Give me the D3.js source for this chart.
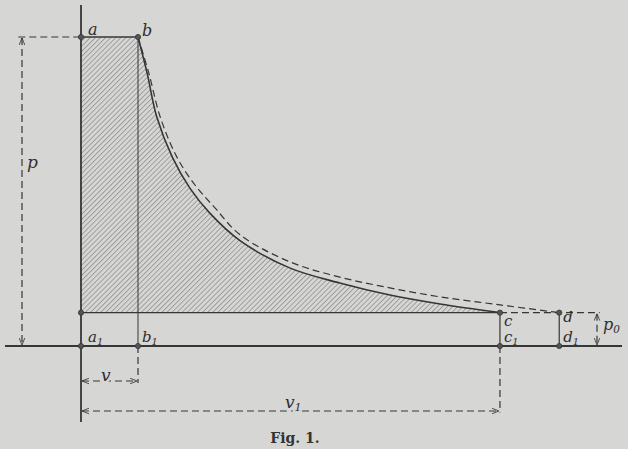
<!DOCTYPE html>
<html>
<head>
<meta charset="utf-8">
<script src="https://cdn.jsdelivr.net/npm/d3@7"></script>
<style>
  body { margin: 0; background: #d6d6d4; }
  svg { display: block; }
  .lbl { font-family: "DejaVu Serif", "Liberation Serif", serif; font-style: italic; fill: #2e2e2e; }
</style>
</head>
<body>
<svg id="chart" width="628" height="449"></svg>
<script>
// adiabatic expansion b -> c (solid)
var solidV = [1, 1.16, 1.33, 1.6, 1.91, 2.26, 2.79, 3.67, 4.54, 5.42, 6.3, 7.35];
var solidP = [10, 8.83, 7.41, 6.12, 5.11, 4.3, 3.41, 2.52, 2.04, 1.65, 1.36, 1.08];

// isothermal curve b -> d (dashed)
var dashV = [1, 1.19, 1.39, 1.68, 2.0, 2.35, 2.79, 3.67, 4.54, 5.42, 6.3, 7.35, 8.39];
var dashP = [10, 8.83, 7.41, 6.12, 5.21, 4.47, 3.6, 2.72, 2.23, 1.88, 1.59, 1.33, 1.08];

// labelled points
var ptNames = ["a", "b", "a1", "b1", "c", "c1", "d", "d1", ""];
var ptV = [0, 1, 0, 1, 7.35, 7.35, 8.39, 8.39, 0];
var ptP = [10, 10, 0, 0, 1.08, 0, 1.08, 0, 1.08];

var vB = 1, vC = 7.35, vD = 8.39, pA = 10, p0 = 1.08;

var svg = d3.select("#chart");
var ink = "#363636";

var x = d3.scaleLinear().domain([0, 1]).range([81, 138]);
var y = d3.scaleLinear().domain([0, 10]).range([346, 37]);

// hatch pattern
var defs = svg.append("defs");
var pat = defs.append("pattern")
    .attr("id", "hatch")
    .attr("patternUnits", "userSpaceOnUse")
    .attr("width", 3.6).attr("height", 3.6)
    .attr("patternTransform", "rotate(45)");
pat.append("line")
    .attr("x1", 0).attr("y1", 0).attr("x2", 0).attr("y2", 3.6)
    .attr("stroke", "#5e5e5e").attr("stroke-width", 0.9);

// arrow markers
function marker(id, dir) {
  var m = defs.append("marker")
      .attr("id", id)
      .attr("viewBox", "0 -5 10 10")
      .attr("refX", 10).attr("refY", 0)
      .attr("markerWidth", 7).attr("markerHeight", 7)
      .attr("markerUnits", "userSpaceOnUse")
      .attr("orient", dir);
  m.append("path").attr("d", "M0,-4L10,0L0,4")
      .attr("fill", "none").attr("stroke", ink).attr("stroke-width", 1.2);
}
marker("arrEnd", "auto");
marker("arrStart", "auto-start-reverse");

var curveLine = d3.line().x(function (d) { return x(d[0]); }).y(function (d) { return y(d[1]); })
    .curve(d3.curveCatmullRom);

// hatched area a - b - curve - c - back to axis at p0
var solidPts = solidV.map(function (v, i) { return [v, solidP[i]]; });
svg.append("path")
    .attr("d", "M" + x(0) + "," + y(pA) + "L" + curveLine(solidPts).slice(1) +
      "L" + x(0) + "," + y(p0) + "Z")
    .attr("fill", "url(#hatch)");

// axes
svg.append("line").attr("x1", 5).attr("x2", 622).attr("y1", y(0)).attr("y2", y(0))
    .attr("stroke", ink).attr("stroke-width", 1.8);
svg.append("line").attr("x1", x(0)).attr("x2", x(0)).attr("y1", 5).attr("y2", 422)
    .attr("stroke", ink).attr("stroke-width", 1.8);

function seg(v1, p1, v2, p2, w, dash) {
  var l = svg.append("line")
      .attr("x1", x(v1)).attr("y1", y(p1)).attr("x2", x(v2)).attr("y2", y(p2))
      .attr("stroke", ink).attr("stroke-width", w || 1);
  if (dash) l.attr("stroke-dasharray", dash);
  return l;
}

// solid construction lines
seg(0, pA, vB, pA, 1.3);
seg(vB, pA, vB, 0, 1);
seg(0, p0, vC, p0, 1.2);
seg(vC, p0, vC, 0, 1.2);
seg(vD, p0, vD, 0, 1.2);

// curves
svg.append("path")
    .attr("d", curveLine(solidPts))
    .attr("fill", "none").attr("stroke", ink).attr("stroke-width", 1.6);
svg.append("path")
    .attr("d", curveLine(dashV.map(function (v, i) { return [v, dashP[i]]; })))
    .attr("fill", "none").attr("stroke", ink).attr("stroke-width", 1.2)
    .attr("stroke-dasharray", "7,4");

// dashed helpers
seg(-1.1, pA, 0, pA, 1.2, "7,4");
seg(vC, p0, 9.1, p0, 1.2, "7,4");
seg(vB, 0, vB, -1.2, 1.2, "7,4");
seg(vC, 0, vC, -2.15, 1.2, "7,4");

// dimension arrows
function dim(x1, y1, x2, y2) {
  svg.append("line").attr("x1", x1).attr("y1", y1).attr("x2", x2).attr("y2", y2)
      .attr("stroke", ink).attr("stroke-width", 1.2).attr("stroke-dasharray", "7,4")
      .attr("marker-start", "url(#arrStart)").attr("marker-end", "url(#arrEnd)");
}
dim(22, y(pA) + 1, 22, y(0) - 1);
dim(597, y(p0) + 1, 597, y(0) - 1);
dim(x(0) + 1, 381, x(vB) - 1, 381);
dim(x(0) + 1, 411, x(vC) - 1, 411);

// points
svg.selectAll("circle.pt")
  .data(ptV.map(function (v, i) { return [v, ptP[i]]; }))
  .enter().append("circle").attr("class", "pt")
    .attr("cx", function (d) { return x(d[0]); })
    .attr("cy", function (d) { return y(d[1]); })
    .attr("r", 2.6)
    .attr("fill", "#555").attr("stroke", ink).attr("stroke-width", 0.8);

// labels
function label(txt, sub, px, py, size, halo) {
  var t = svg.append("text").attr("class", "lbl")
      .attr("x", px).attr("y", py).style("font-size", size + "px");
  if (halo) t.attr("stroke", "#d6d6d4").attr("stroke-width", 5).attr("paint-order", "stroke");
  t.append("tspan").text(txt);
  if (sub) t.append("tspan").attr("dy", 3).style("font-size", (size * 0.65) + "px").text(sub);
}
label("a", "", x(0) + 7, y(pA) - 2, 16);
label("b", "", x(vB) + 4, y(pA) - 1, 16);
label("a", "1", x(0) + 7, y(0) - 4, 15);
label("b", "1", x(vB) + 4, y(0) - 4, 15);
label("c", "", x(vC) + 4, y(p0) + 13, 15);
label("c", "1", x(vC) + 4, y(0) - 4, 15);
label("d", "", x(vD) + 4, y(p0) + 9, 15);
label("d", "1", x(vD) + 4, y(0) - 4, 15);
label("p", "0", 603, 330, 16);
label("p", "", 27, 168, 17, true);
label("v", "", 101, 381, 17, true);
label("v", "1", 285, 408, 17, true);

svg.append("text")
    .attr("x", 295).attr("y", 443)
    .attr("text-anchor", "middle")
    .style("font-family", "\"DejaVu Serif\", serif")
    .style("font-weight", "bold")
    .style("font-size", "14px")
    .attr("fill", "#333")
    .text("Fig. 1.");
</script>
</body>
</html>
